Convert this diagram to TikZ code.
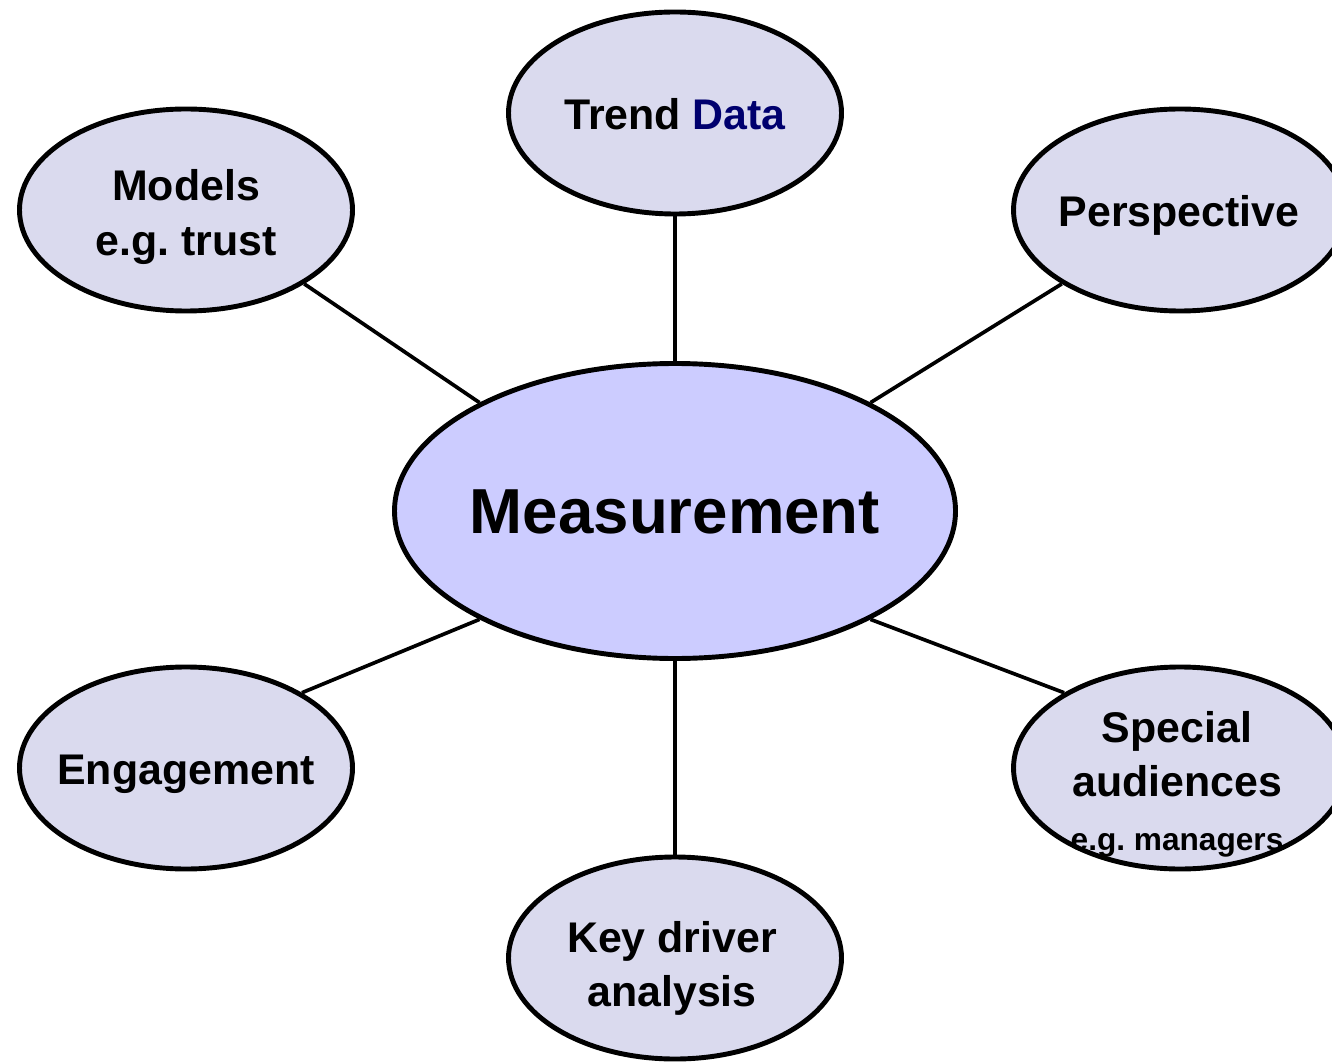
\documentclass[tikz,border=0pt]{standalone}
\usepackage{fontspec}
\setmainfont{Liberation Sans}
\usepackage{xcolor}
\usetikzlibrary{shapes.geometric}
\frenchspacing

\definecolor{bubblefill}{RGB}{218,218,238}
\definecolor{hubfill}{RGB}{204,204,255}
\definecolor{datablue}{RGB}{0,0,110}

\begin{document}
\begin{tikzpicture}[
    bubble/.style={ellipse, draw=black, line width=1.4pt, fill=bubblefill,
        minimum width=3.33cm, minimum height=2.02cm, inner sep=0pt},
    hub/.style={ellipse, draw=black, line width=1.4pt, fill=hubfill,
        minimum width=5.61cm, minimum height=2.95cm, inner sep=0pt},
    lbl/.style={align=center, inner sep=0pt,
        font=\bfseries\fontsize{12.2pt}{15.4pt}\selectfont},
    spoke/.style={line width=1.05pt}
]
    \useasboundingbox (0,0) rectangle (13.32,10.62);
    \clip (0,0) rectangle (13.32,10.62);

    % Hub
    \node[hub] (meas) at (6.75,5.51) {};

    % Surrounding topics
    \node[bubble] (trend)   at (6.75,9.49) {};
    \node[bubble] (models)  at (1.86,8.52) {};
    \node[bubble] (persp)   at (11.80,8.52) {};
    \node[bubble] (engage)  at (1.86,2.94) {};
    \node[bubble] (special) at (11.80,2.94) {};
    \node[bubble] (keydrv)  at (6.75,1.04) {};

    % Spokes
    \draw[spoke] (trend.south)  -- (meas.north);
    \draw[spoke] (models.-32)   -- (meas.151);
    \draw[spoke] (persp.212)    -- (meas.29);
    \draw[spoke] (engage.33)    -- (meas.209);
    \draw[spoke] (special.147)  -- (meas.-29);
    \draw[spoke] (keydrv.north) -- (meas.south);

    % Labels
    \node[font=\bfseries\fontsize{18.1pt}{22pt}\selectfont, inner sep=0pt]
        (meas-lbl) at (6.75,5.50) {Measurement};
    \node[lbl] (trend-lbl)   at (6.75,9.48) {Trend \textcolor{datablue}{Data}};
    \node[lbl] (models-lbl)  at (1.86,8.45) {Models\\e.g. trust};
    \node[lbl] (persp-lbl)   at (11.79,8.47) {Perspective};
    \node[lbl] (engage-lbl)  at (1.86,2.88) {Engagement};
    \node[lbl] (special-lbl) at (11.77,2.78)
        {Special\\audiences\\{\fontsize{9pt}{10pt}\selectfont e.g. managers}};
    \node[lbl] (keydrv-lbl)  at (6.72,0.94) {Key driver\\analysis};
\end{tikzpicture}
\end{document}
